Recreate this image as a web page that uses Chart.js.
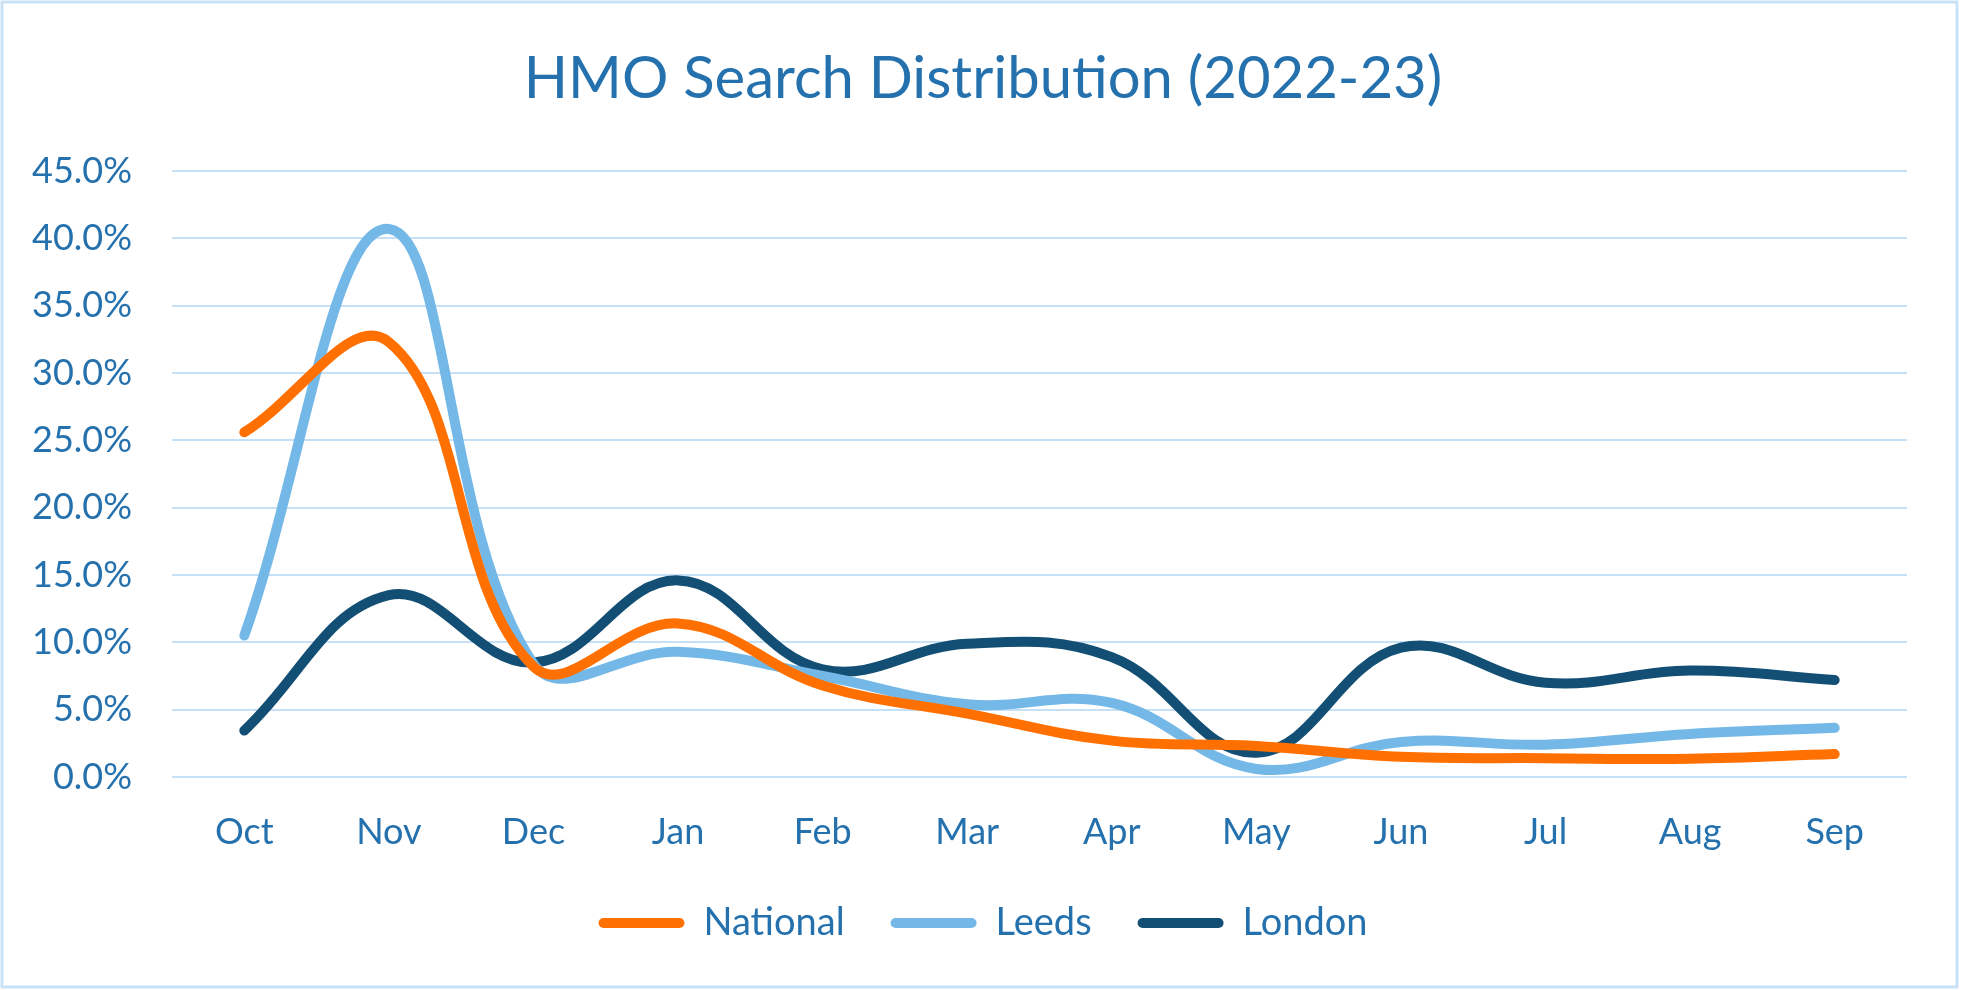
<!DOCTYPE html>
<html lang="en">
<head>
    <meta charset="UTF-8">
    <title>HMO Search Distribution</title>
    <script src="https://cdn.jsdelivr.net/npm/chart.js"></script>
    <style>
        html, body { margin: 0; padding: 0; background: #fff; }
        canvas { display: block; }
    </style>
</head>
<body>
    <canvas id="hmoChart" width="1966" height="990"></canvas>
    <script>
        // months of the 2022-23 year
        const months = ['Oct', 'Nov', 'Dec', 'Jan', 'Feb', 'Mar', 'Apr', 'May', 'Jun', 'Jul', 'Aug', 'Sep'];

        // share of searches, in percent
        const national = [25.6, 32.3, 8.2, 11.4, 6.8, 4.7, 2.7, 2.3, 1.5, 1.4, 1.35, 1.7];
        const leeds = [10.5, 40.7, 8.4, 9.3, 7.5, 5.4, 5.5, 0.6, 2.6, 2.4, 3.2, 3.65];
        const london = [3.45, 13.5, 8.5, 14.6, 8.0, 9.9, 8.9, 1.8, 9.6, 7.0, 7.9, 7.2];

        const yTicks = [0, 5, 10, 15, 20, 25, 30, 35, 40, 45];

        const blueText = '#2471ae';
        const font = 'Lato';

        // light blue frame round the whole chart
        const framePlugin = {
            id: 'frame',
            beforeDraw(chart) {
                const c = chart.ctx;
                c.save();
                c.fillStyle = '#ffffff';
                c.fillRect(0, 0, chart.width, chart.height);
                c.strokeStyle = '#c9e1f5';
                c.lineWidth = 3;
                c.strokeRect(2, 2, 1955, 985);
                c.restore();
            }
        };

        const ctx = document.getElementById('hmoChart').getContext('2d');

        const hmoChart = new Chart(ctx, {
            type: 'line',
            data: {
                labels: months,
                datasets: [
                    { label: 'National', data: national, borderColor: '#ff7000', backgroundColor: '#ff7000' },
                    { label: 'Leeds', data: leeds, borderColor: '#74b8e7', backgroundColor: '#74b8e7' },
                    { label: 'London', data: london, borderColor: '#134f74', backgroundColor: '#134f74' }
                ]
            },
            options: {
                responsive: false,
                animation: false,
                layout: { padding: { left: 0, right: 0, top: 0, bottom: 38 } },
                elements: {
                    line: { borderWidth: 10, tension: 0.4, borderCapStyle: 'round', borderJoinStyle: 'round' },
                    point: { radius: 0, hoverRadius: 0 }
                },
                plugins: {
                    title: {
                        display: true,
                        text: 'HMO Search Distribution (2022-23)',
                        color: blueText,
                        font: { family: font, size: 58, weight: 'normal', lineHeight: 1.2 },
                        padding: { top: 44, bottom: 57.4 }
                    },
                    legend: {
                        position: 'bottom',
                        labels: {
                            color: blueText,
                            font: { family: font, size: 38 },
                            boxWidth: 86,
                            boxHeight: 10,
                            useBorderRadius: true,
                            borderRadius: 5,
                            padding: 46,
                            generateLabels(chart) {
                                const items = Chart.defaults.plugins.legend.labels.generateLabels(chart);
                                items.forEach(item => { item.lineWidth = 0; });
                                return items;
                            }
                        }
                    },
                    tooltip: { enabled: false }
                },
                scales: {
                    x: {
                        offset: true,
                        grid: { display: false, drawTicks: false },
                        border: { display: false },
                        ticks: {
                            color: blueText,
                            font: { family: font, size: 36 },
                            padding: 34,
                            maxRotation: 0
                        },
                        afterFit(scale) { scale.height = 81; }
                    },
                    y: {
                        min: 0,
                        max: 45,
                        afterBuildTicks(scale) { scale.ticks = yTicks.map(v => ({ value: v })); },
                        grid: { color: '#c6e0f5', lineWidth: 2, drawTicks: false },
                        border: { display: false },
                        ticks: {
                            color: blueText,
                            font: { family: font, size: 36 },
                            padding: 40,
                            callback: v => v.toFixed(1) + '%'
                        },
                        afterFit(scale) { scale.width = 172; }
                    },
                    // empty right-hand axis that only keeps the right margin
                    yRight: {
                        position: 'right',
                        min: 0,
                        max: 45,
                        grid: { display: false, drawTicks: false },
                        border: { display: false },
                        ticks: { display: false },
                        afterFit(scale) { scale.width = 59; }
                    }
                }
            },
            plugins: [framePlugin]
        });
    </script>
</body>
</html>
